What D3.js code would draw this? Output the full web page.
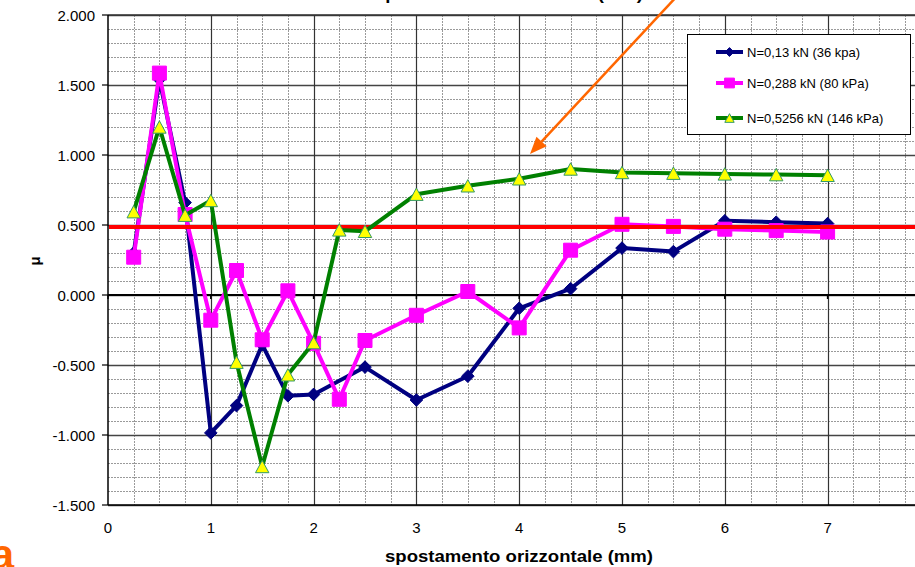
<!DOCTYPE html>
<html>
<head>
<meta charset="utf-8">
<script src="https://cdn.jsdelivr.net/npm/d3@7"></script>
<style>
  body { margin: 0; background: #fff; }
  svg { display: block; font-family: Arial, "Liberation Sans", sans-serif; }
</style>
</head>
<body>
<svg id="chart" width="915" height="567"></svg>
<script>
// shared x positions (mm)
var spost = [0.25, 0.5, 0.75, 1, 1.25, 1.5, 1.75, 2, 2.25, 2.5, 3, 3.5, 4, 4.5, 5, 5.5, 6, 6.5, 7];

// mu values (null = no point)
var muN013 = [0.30, 1.54, 0.66, -0.985, -0.79, -0.355, -0.72, -0.71, null, -0.515, -0.75, -0.58, -0.095, 0.045, 0.335, 0.31, 0.53, 0.52, 0.51];
var muN0288 = [0.27, 1.585, 0.575, -0.18, 0.175, -0.32, 0.03, -0.345, -0.745, -0.325, -0.145, 0.025, -0.235, 0.32, 0.505, 0.49, 0.47, 0.46, 0.45];
var muN05256 = [0.595, 1.20, 0.57, 0.675, -0.48, -1.225, -0.57, -0.34, 0.465, 0.455, 0.72, 0.78, 0.83, 0.90, 0.875, 0.87, 0.865, 0.86, 0.855];

var seriesNames = ["N=0,13 kN (36 kpa)", "N=0,288 kN (80 kPa)", "N=0,5256 kN (146 kPa)"];
var refMu = 0.485;

var yTicks = [2, 1.5, 1, 0.5, 0, -0.5, -1, -1.5];
var yTickLabels = ["2.000", "1.500", "1.000", "0.500", "0.000", "-0.500", "-1.000", "-1.500"];
var xTicks = [0, 1, 2, 3, 4, 5, 6, 7];

var svg = d3.select("#chart");

var x = d3.scaleLinear().domain([0, 8]).range([108, 930.4]);
var y = d3.scaleLinear().domain([-1.5, 2]).range([505, 15]);

/* grid */
var grid = svg.append("g");
var minorY = d3.range(-15, 21).map(function (d) { return d / 10; }).filter(function (d) { return Math.round(d * 10) % 5 != 0; });
var minorX = d3.range(1, 32).map(function (d) { return d / 4; }).filter(function (d) { return d % 1 != 0; });

grid.selectAll(".hmin").data(minorY).enter().append("line")
    .attr("x1", x(0)).attr("x2", 915)
    .attr("y1", function (d) { return Math.round(y(d)) + 0.5; })
    .attr("y2", function (d) { return Math.round(y(d)) + 0.5; })
    .attr("stroke", "#9a9a9a").attr("stroke-width", 1).attr("stroke-dasharray", "2,1");
grid.selectAll(".vmin").data(minorX).enter().append("line")
    .attr("y1", y(2)).attr("y2", y(-1.5))
    .attr("x1", function (d) { return Math.round(x(d)) + 0.5; })
    .attr("x2", function (d) { return Math.round(x(d)) + 0.5; })
    .attr("stroke", "#9a9a9a").attr("stroke-width", 1).attr("stroke-dasharray", "2,1");
grid.selectAll(".hmaj").data(yTicks).enter().append("line")
    .attr("x1", x(0)).attr("x2", 915)
    .attr("y1", function (d) { return Math.round(y(d)) + 0.5; })
    .attr("y2", function (d) { return Math.round(y(d)) + 0.5; })
    .attr("stroke", "#444").attr("stroke-width", 1.3);
grid.selectAll(".vmaj").data(d3.range(1, 9)).enter().append("line")
    .attr("y1", y(2)).attr("y2", y(-1.5))
    .attr("x1", function (d) { return Math.round(x(d)) + 0.5; })
    .attr("x2", function (d) { return Math.round(x(d)) + 0.5; })
    .attr("stroke", "#333").attr("stroke-width", 1.2);

/* axes lines */
svg.append("line").attr("x1", x(0)).attr("x2", 915).attr("y1", y(2)).attr("y2", y(2)).attr("stroke", "#333").attr("stroke-width", 1.5);
svg.append("line").attr("x1", x(0)).attr("x2", 915).attr("y1", y(-1.5)).attr("y2", y(-1.5)).attr("stroke", "#000").attr("stroke-width", 1.5);
svg.append("line").attr("x1", x(0)).attr("x2", x(0)).attr("y1", y(2)).attr("y2", y(-1.5)).attr("stroke", "#000").attr("stroke-width", 1.5);
svg.append("line").attr("x1", x(0)).attr("x2", 915).attr("y1", y(0)).attr("y2", y(0)).attr("stroke", "#000").attr("stroke-width", 2.2);

// y ticks + labels
svg.selectAll(".ytick").data(yTicks).enter().append("line")
    .attr("x1", x(0) - 6).attr("x2", x(0))
    .attr("y1", function (d) { return y(d); }).attr("y2", function (d) { return y(d); })
    .attr("stroke", "#000").attr("stroke-width", 1.2);
svg.selectAll(".ylab").data(yTicks).enter().append("text")
    .attr("x", 95).attr("y", function (d) { return y(d) + 5.5; })
    .attr("text-anchor", "end").attr("font-size", 15).attr("fill", "#000")
    .text(function (d, i) { return yTickLabels[i]; });

// x ticks on the zero line + labels
svg.selectAll(".xtick").data(xTicks).enter().append("line")
    .attr("x1", function (d) { return x(d); }).attr("x2", function (d) { return x(d); })
    .attr("y1", y(0)).attr("y2", y(0) + 4)
    .attr("stroke", "#000").attr("stroke-width", 1.5);
svg.selectAll(".xlab").data(xTicks).enter().append("text")
    .attr("x", function (d) { return x(d); }).attr("y", 533)
    .attr("text-anchor", "middle").attr("font-size", 15).attr("fill", "#000")
    .text(function (d) { return d; });

/* series */
var diamond = function (s) { return "M0," + (-s) + "L" + s + ",0L0," + s + "L" + (-s) + ",0Z"; };
var square = function (s) { return "M" + (-s) + "," + (-s) + "H" + s + "V" + s + "H" + (-s) + "Z"; };
var triangle = function (s) { return "M0," + (-s) + "L" + (s * 1.08) + "," + s + "L" + (-s * 1.08) + "," + s + "Z"; };

var series = [
    { name: seriesNames[0], values: muN013, color: "#000080", shape: diamond, size: 6.3, fill: "#000080", edge: "#000080" },
    { name: seriesNames[1], values: muN0288, color: "#FF00FF", shape: square, size: 7, fill: "#FF00FF", edge: "#FF00FF" },
    { name: seriesNames[2], values: muN05256, color: "#008000", shape: triangle, size: 6.2, fill: "#FFFF00", edge: "#339966" }
];

var line = d3.line().x(function (d) { return x(d[0]); }).y(function (d) { return y(d[1]); });

function drawSeries(s) {
    var pts = spost.map(function (v, i) { return [v, s.values[i]]; }).filter(function (p) { return p[1] != null; });
    var g = svg.append("g");
    g.append("path").attr("d", line(pts)).attr("fill", "none")
        .attr("stroke", s.color).attr("stroke-width", 4).attr("stroke-linejoin", "round");
    g.selectAll("path.m").data(pts).enter().append("path").attr("class", "m")
        .attr("transform", function (d) { return "translate(" + x(d[0]) + "," + y(d[1]) + ")"; })
        .attr("d", s.shape(s.size)).attr("fill", s.fill).attr("stroke", s.edge).attr("stroke-width", 1);
}
drawSeries(series[0]);
drawSeries(series[1]);
// reference line
svg.append("line").attr("x1", x(0) + 1).attr("x2", 915).attr("y1", y(refMu)).attr("y2", y(refMu))
    .attr("stroke", "#FF0000").attr("stroke-width", 4);
drawSeries(series[2]);

/* legend */
var leg = svg.append("g");
leg.append("rect").attr("x", 687.5).attr("y", 34.5).attr("width", 223).attr("height", 100)
    .attr("fill", "#fff").attr("stroke", "#000").attr("stroke-width", 1);
var legY = [52, 83, 118];
series.forEach(function (s, i) {
    leg.append("line").attr("x1", 716).attr("x2", 743).attr("y1", legY[i]).attr("y2", legY[i])
        .attr("stroke", s.color).attr("stroke-width", 4);
    leg.append("path").attr("transform", "translate(729.5," + legY[i] + ")")
        .attr("d", s.shape(s.size * 0.7)).attr("fill", s.fill).attr("stroke", s.edge).attr("stroke-width", 1);
    leg.append("text").attr("x", 747).attr("y", legY[i] + 5).attr("font-size", 13).attr("fill", "#000").text(s.name);
});

/* titles */
svg.append("text").attr("x", 375).attr("y", 0)
    .attr("font-size", 16).attr("font-weight", "bold")
    .attr("textLength", 268).attr("lengthAdjust", "spacingAndGlyphs")
    .text("spostamento orizzontale (mm)");
svg.append("text").attr("x", 385).attr("y", 562)
    .attr("font-size", 16).attr("font-weight", "bold")
    .attr("textLength", 268).attr("lengthAdjust", "spacingAndGlyphs")
    .text("spostamento orizzontale (mm)");
svg.append("text").attr("transform", "translate(40,261) rotate(-90)").attr("text-anchor", "middle")
    .attr("font-size", 15).attr("font-weight", "bold").text("μ");
svg.append("text").attr("x", 14).attr("y", 569).attr("text-anchor", "end")
    .attr("font-size", 42).attr("font-weight", "bold").attr("fill", "#FF6600").text("a");

/* arrow annotation */
var a0 = [679, -6], a1 = [530, 154];
var dx = a1[0] - a0[0], dy = a1[1] - a0[1], len = Math.sqrt(dx * dx + dy * dy);
var ux = dx / len, uy = dy / len;
var hl = 17, hw = 7;
var bx = a1[0] - ux * hl, by = a1[1] - uy * hl;
svg.append("line").attr("x1", a0[0]).attr("y1", a0[1]).attr("x2", bx).attr("y2", by)
    .attr("stroke", "#FF6600").attr("stroke-width", 2.5);
svg.append("path").attr("d", "M" + a1[0] + "," + a1[1] + "L" + (bx - uy * hw) + "," + (by + ux * hw) + "L" + (bx + uy * hw) + "," + (by - ux * hw) + "Z")
    .attr("fill", "#FF6600");
</script>
</body>
</html>
